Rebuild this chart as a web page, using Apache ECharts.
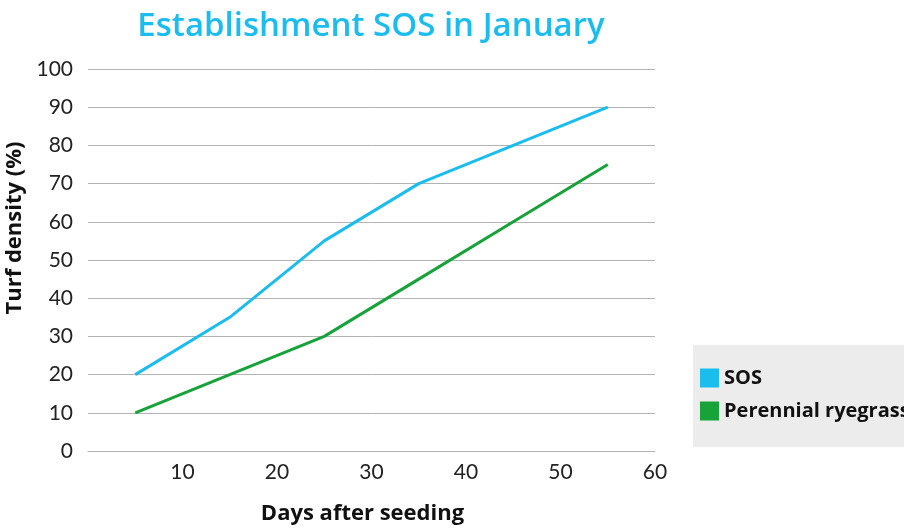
<!DOCTYPE html>
<html><head><meta charset="utf-8">
<script src="https://cdn.jsdelivr.net/npm/echarts@6/dist/echarts.min.js"></script>
<style>html,body{margin:0;padding:0;background:#fff}#c{width:904px;height:530px}</style>
</head><body><div id="c"></div>
<script>
const titleText = "Establishment SOS in January";
const days = [5, 15, 25, 35, 45, 55];
const sosValues = [20, 35, 55, 70, 80, 90];
const ryegrassValues = [10, 20, 30, 45, 60, 75];
const seriesNames = ["SOS", "Perennial ryegrass"];
const xName = "Days after seeding";
const yName = "Turf density (%)";

const font = "Lato, 'Open Sans', sans-serif";
const boldFont = "'Open Sans', Lato, sans-serif";
const chart = echarts.init(document.getElementById('c'));
chart.setOption({
  animation: false,
  title: { text: titleText, left: 366, top: 5, textAlign: 'center',
    textStyle: { color: '#1bbcee', fontSize: 33, fontWeight: 600, fontFamily: boldFont } },
  grid: { left: 88, right: 249, top: 69, bottom: 79, containLabel: false, outerBoundsMode: 'none' },
  legend: {
    left: 693, top: 345, orient: 'vertical',
    backgroundColor: '#ececec', padding: [23, 60, 26, 7],
    itemWidth: 19, itemHeight: 19, itemGap: 13,
    icon: 'rect',
    textStyle: { fontSize: 20, fontWeight: 'bold', color: '#111', fontFamily: boldFont },
    data: seriesNames
  },
  xAxis: {
    type: 'value', min: 0, max: 60, interval: 10,
    name: xName, nameLocation: 'middle', nameGap: 52,
    nameTextStyle: { fontSize: 22, fontWeight: 'bold', color: '#111', fontFamily: boldFont, padding: [0, 18, 0, 0] },
    axisLine: { show: true, lineStyle: { color: '#b3b3b3', width: 1 } },
    axisTick: { show: false },
    splitLine: { show: false },
    axisLabel: { showMinLabel: false, fontSize: 21, color: '#222', margin: 11, fontFamily: font }
  },
  yAxis: {
    type: 'value', min: 0, max: 100, interval: 10,
    name: yName, nameLocation: 'middle', nameGap: 58,
    nameTextStyle: { fontSize: 22, fontWeight: 'bold', color: '#111', fontFamily: boldFont, padding: [0, 0, 0, 64] },
    axisLine: { show: false }, axisTick: { show: false },
    splitLine: { lineStyle: { color: '#b3b3b3', width: 1 } },
    axisLabel: { fontSize: 21, color: '#222', margin: 15, fontFamily: font }
  },
  series: [
    { name: seriesNames[0], type: 'line', data: days.map((d,i)=>[d, sosValues[i]]),
      symbol: 'none', lineStyle: { color: '#1bbcee', width: 3 }, itemStyle: { color: '#1bbcee' } },
    { name: seriesNames[1], type: 'line', data: days.map((d,i)=>[d, ryegrassValues[i]]),
      symbol: 'none', lineStyle: { color: '#17a23a', width: 3 }, itemStyle: { color: '#17a23a' } }
  ]
});
</script></body></html>
